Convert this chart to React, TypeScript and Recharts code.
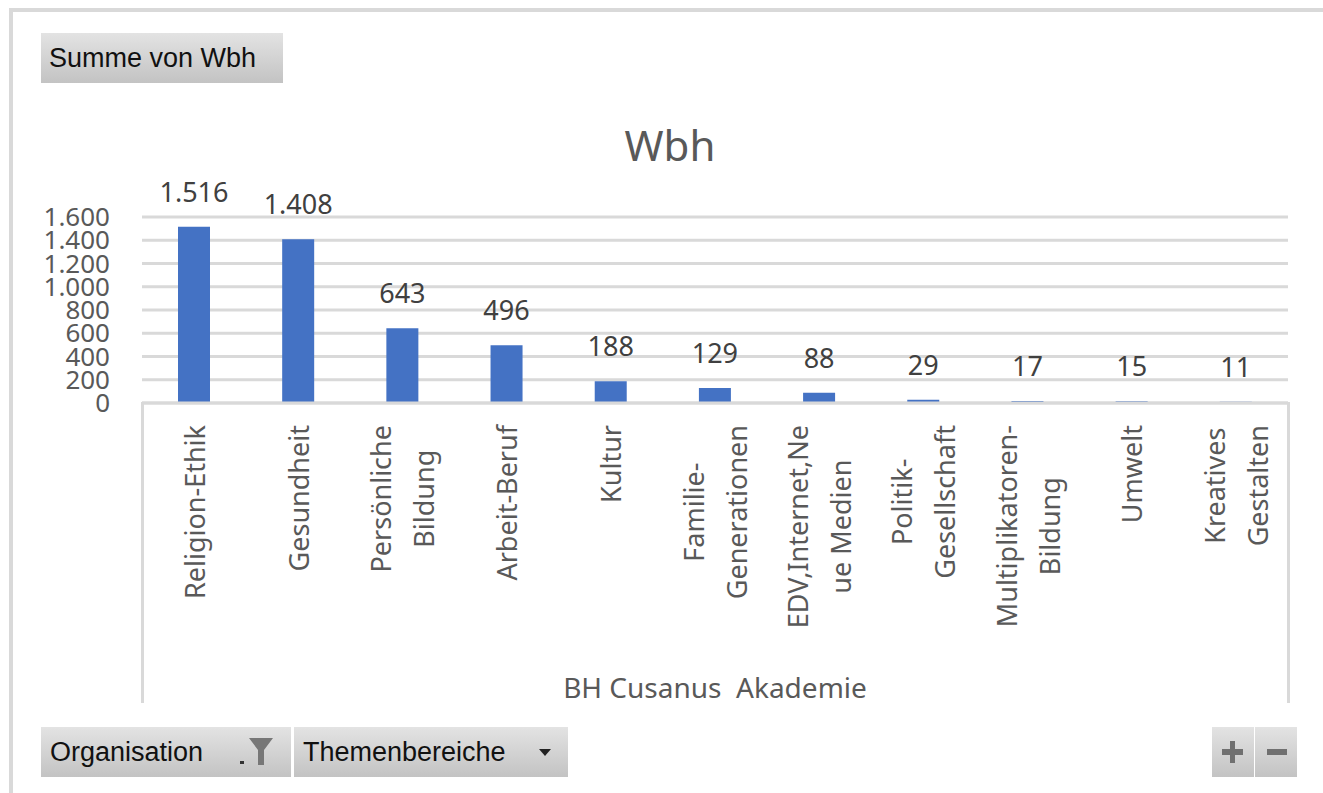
import { BarChart, Bar, XAxis, YAxis, CartesianGrid, LabelList, Label } from 'recharts'

const categories = [
  'Religion-Ethik',
  'Gesundheit',
  'Persönliche\nBildung',
  'Arbeit-Beruf',
  'Kultur',
  'Familie-\nGenerationen',
  'EDV,Internet,Ne\nue Medien',
  'Politik-\nGesellschaft',
  'Multiplikatoren-\nBildung',
  'Umwelt',
  'Kreatives\nGestalten',
]
const wbh = [1516, 1408, 643, 496, 188, 129, 88, 29, 17, 15, 11]
const yTicks = [0, 200, 400, 600, 800, 1000, 1200, 1400, 1600]

const chartTitle = 'Wbh'
const axisTitle = 'BH Cusanus\u00a0 Akademie'

const data = categories.map((name, i) => ({ name, value: wbh[i] }))

const FONT = '"Noto Sans", "DejaVu Sans", sans-serif'
const GRID = '#d9d9d9'

// german thousands separator
const fmt = (v: number) => String(v).replace(/\B(?=(\d{3})+(?!\d))/g, '.')

let ctx: CanvasRenderingContext2D | null = null
function measure(s: string, font: string) {
  if (!ctx) ctx = document.createElement('canvas').getContext('2d')
  if (!ctx) return s.length * 14
  ctx.font = font
  return ctx.measureText(s).width
}

function CategoryTick(props: any) {
  const { x, y, payload } = props
  const lines = String(payload.value).split('\n')
  const size = 27
  const widths = lines.map((l) => measure(l, `${size}px "Noto Sans"`))
  const maxW = Math.max(...widths)
  const top = y + 22
  const cy = top + maxW / 2
  return (
    <g>
      {lines.map((l, i) => {
        const lx = x + (i - (lines.length - 1) / 2) * 43
        return (
          <text
            key={i}
            x={lx}
            y={cy}
            transform={`rotate(-90 ${lx} ${cy})`}
            textAnchor="middle"
            dominantBaseline="central"
            fontFamily={FONT}
            fontSize={size}
            fill="#595959"
          >
            {l}
          </text>
        )
      })}
    </g>
  )
}

const btn: React.CSSProperties = {
  position: 'absolute',
  background: 'linear-gradient(#e3e3e3, #c3c3c3)',
  fontFamily: '"Liberation Sans", Arial, sans-serif',
  fontSize: 27,
  color: '#111',
  lineHeight: '50px',
  height: 50,
  boxSizing: 'border-box',
  whiteSpace: 'nowrap',
}

export default function App() {
  return (
    <div style={{ position: 'absolute', left: 0, top: 0, width: 1323, height: 793, background: '#fff', overflow: 'hidden' }}>
      {/* outer frame */}
      <div style={{ position: 'absolute', left: 9, top: 8, width: 1314, height: 4, background: GRID }} />
      <div style={{ position: 'absolute', left: 9, top: 8, width: 4, height: 785, background: GRID }} />

      <div style={{ ...btn, left: 41, top: 33, width: 242, paddingLeft: 8 }}>Summe von Wbh</div>

      <div
        style={{
          position: 'absolute',
          left: 520,
          top: 118,
          width: 300,
          textAlign: 'center',
          fontFamily: FONT,
          fontSize: 42,
          lineHeight: '54px',
          color: '#595959',
        }}
      >
        {chartTitle}
      </div>

      <div style={{ position: 'absolute', left: 0, top: 0 }}>
        <BarChart width={1323} height={793} data={data} margin={{ top: 217, right: 35, bottom: 90, left: 42 }}>
          <CartesianGrid vertical={false} stroke={GRID} strokeWidth={3} />
          <YAxis
            width={100}
            domain={[0, 1600]}
            ticks={yTicks}
            interval={0}
            axisLine={false}
            tickLine={false}
            tickSize={0}
            tickMargin={32}
            tickFormatter={fmt}
            tick={{ fontFamily: FONT, fontSize: 26, fill: '#595959' }}
          />
          <XAxis
            dataKey="name"
            height={300}
            interval={0}
            tickLine={false}
            tickSize={0}
            tickMargin={0}
            axisLine={{ stroke: GRID, strokeWidth: 3 }}
            tick={<CategoryTick />}
          >
            <Label
              value={axisTitle}
              position="insideBottom"
              offset={5}
              style={{ fontFamily: FONT, fontSize: 28, fill: '#595959' }}
            />
          </XAxis>
          <Bar dataKey="value" fill="#4472c4" barSize={32} isAnimationActive={false}>
            <LabelList
              dataKey="value"
              position="top"
              offset={25}
              formatter={(v: any) => fmt(Number(v))}
              style={{ fontFamily: FONT, fontSize: 27, fill: '#404040' }}
            />
          </Bar>
        </BarChart>
      </div>

      {/* category box sides */}
      <div style={{ position: 'absolute', left: 141, top: 402, width: 3, height: 301, background: GRID }} />
      <div style={{ position: 'absolute', left: 1287, top: 402, width: 3, height: 301, background: GRID }} />

      <div style={{ ...btn, left: 41, top: 727, width: 250, paddingLeft: 9 }}>
        Organisation
        <svg width="40" height="36" style={{ position: 'absolute', left: 196, top: 7 }}>
          <rect x="3" y="27" width="4" height="3" fill="#333" />
          <polygon points="12,4 36,4 27,16 27,31 21,31 21,16" fill="#777" />
        </svg>
      </div>
      <div style={{ ...btn, left: 294, top: 727, width: 274, paddingLeft: 9 }}>
        Themenbereiche
        <svg width="14" height="10" style={{ position: 'absolute', left: 244, top: 21 }}>
          <polygon points="1,1 13,1 7,8" fill="#222" />
        </svg>
      </div>
      <div style={{ ...btn, left: 1212, top: 727, width: 42 }}>
        <svg width="42" height="50">
          <rect x="10" y="22" width="21" height="6" fill="#707070" />
          <rect x="18" y="14" width="5" height="22" fill="#707070" />
        </svg>
      </div>
      <div style={{ ...btn, left: 1255, top: 727, width: 42 }}>
        <svg width="42" height="50">
          <rect x="12" y="22" width="20" height="6" fill="#707070" />
        </svg>
      </div>
    </div>
  )
}
